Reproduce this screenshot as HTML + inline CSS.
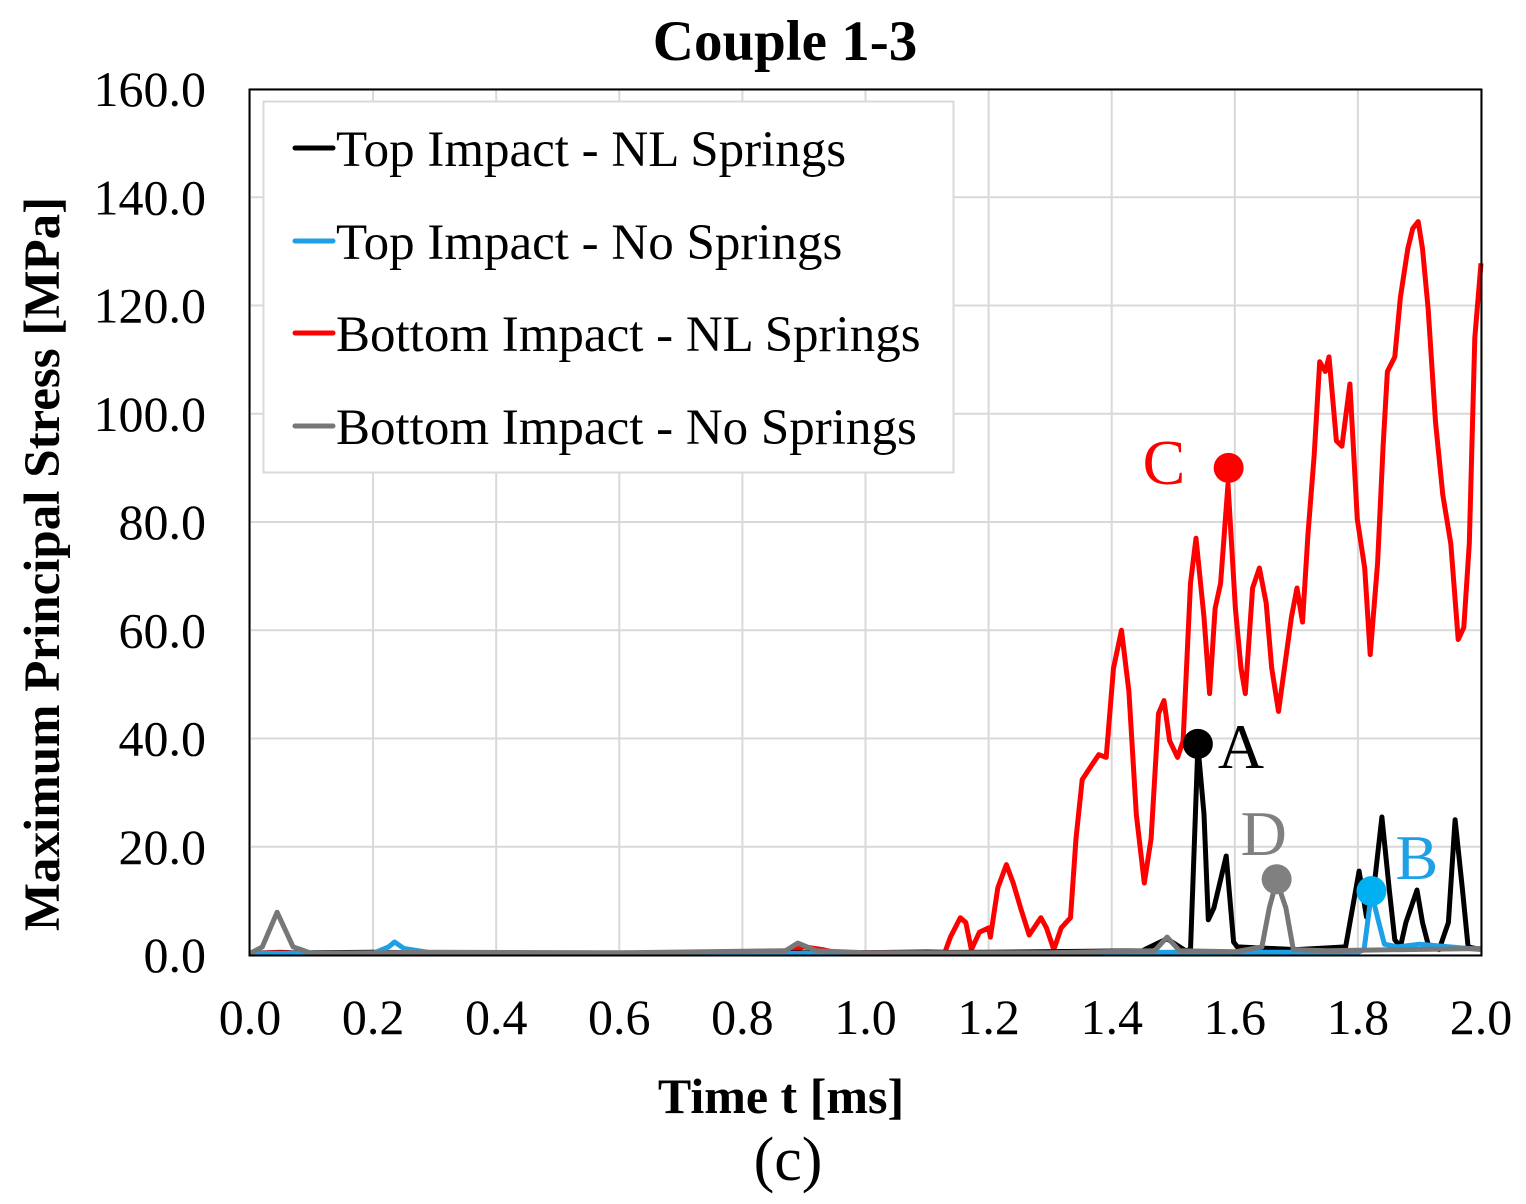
<!DOCTYPE html>
<html><head><meta charset="utf-8"><style>
html,body{margin:0;padding:0;background:#fff;}
svg{display:block;font-family:"Liberation Serif","DejaVu Serif",serif;}
</style></head><body>
<svg id="chart" width="1526" height="1204" viewBox="0 0 1526 1204" xmlns="http://www.w3.org/2000/svg">
<rect x="0" y="0" width="1526" height="1204" fill="#fff"/>
<g id="grid"></g>
<g id="ticks"></g>
<g id="series"></g>
<rect x="249.5" y="89.5" width="1232" height="866" fill="none" stroke="#000" stroke-width="2"/>
<text x="785" y="60" font-size="57" font-weight="bold" text-anchor="middle">Couple 1-3</text>
<text x="0" y="0" font-size="51" font-weight="bold" text-anchor="middle" transform="translate(59,564) rotate(-90)">Maximum Principal Stress [MPa]</text>
<text x="781" y="1113" font-size="50" font-weight="bold" text-anchor="middle">Time t [ms]</text>
<text x="788" y="1180" font-size="62" text-anchor="middle">(c)</text>
<g>
<rect x="263.5" y="101.5" width="690" height="371" fill="#fff" stroke="#d9d9d9" stroke-width="2"/>
<g><line x1="295" y1="148" x2="333" y2="148" stroke="#000" stroke-width="5" stroke-linecap="round"/><text x="336" y="166" font-size="51">Top Impact - NL Springs</text></g>
<g><line x1="295" y1="241" x2="333" y2="241" stroke="#1ea0e6" stroke-width="5" stroke-linecap="round"/><text x="336" y="259" font-size="51">Top Impact - No Springs</text></g>
<g><line x1="295" y1="333" x2="333" y2="333" stroke="#ff0000" stroke-width="5" stroke-linecap="round"/><text x="336" y="351" font-size="51">Bottom Impact - NL Springs</text></g>
<g><line x1="295" y1="426" x2="333" y2="426" stroke="#777" stroke-width="5" stroke-linecap="round"/><text x="336" y="444" font-size="51">Bottom Impact - No Springs</text></g>
</g>
<g id="markers"></g>
</svg>
<script>
const xTicks = [0.0,0.2,0.4,0.6,0.8,1.0,1.2,1.4,1.6,1.8,2.0];
const yTicks = [0,20,40,60,80,100,120,140,160];

const redT = [0,0.05,0.1,0.3,0.5,0.7,0.88,0.9,0.93,0.95,1.0,1.1,1.129,1.138,1.154,1.163,1.172,1.185,1.2,1.203,1.215,1.229,1.24,1.252,1.266,1.285,1.294,1.306,1.318,1.333,1.342,1.352,1.367,1.379,1.391,1.403,1.416,1.428,1.44,1.453,1.464,1.476,1.485,1.494,1.507,1.516,1.528,1.537,1.55,1.559,1.568,1.577,1.589,1.601,1.61,1.617,1.629,1.640,1.651,1.66,1.671,1.68,1.692,1.701,1.71,1.719,1.729,1.738,1.747,1.753,1.765,1.774,1.787,1.799,1.811,1.820,1.832,1.841,1.848,1.86,1.869,1.881,1.889,1.898,1.905,1.914,1.926,1.938,1.951,1.963,1.972,1.981,1.99,2.0];
const redV = [0.3,0.5,0.2,0.3,0.2,0.4,0.8,1.5,1.0,0.5,0.4,0.6,0.5,3.3,6.9,6,1,4.2,5,3.3,12.4,16.7,13.3,8.7,3.7,6.9,5,1,5,6.9,21.5,32.4,35,37,36.5,53,60,48.7,26,13.3,21.5,44.6,47,39.6,36.5,39.6,68.7,77,62.4,48.3,64,68.7,87,64,53,48.3,67.8,71.5,65,53,45,52.4,62.4,67.8,61.5,77.8,92.4,109.6,107.8,110.5,95,94,105.5,80.5,71.5,55.5,72.4,94,107.8,110.5,121.5,130.5,134.2,135.5,130.5,119.5,98.5,85,76,58.3,60.5,76,114,127.8];

const blackT = [0,0.2,0.5,0.9,1.2,1.45,1.49,1.52,1.528,1.540,1.55,1.557,1.566,1.586,1.598,1.604,1.7,1.78,1.802,1.814,1.826,1.839,1.851,1.860,1.869,1.878,1.896,1.905,1.914,1.932,1.947,1.958,1.970,1.979,2.0];
const blackV = [0.3,0.5,0.3,0.4,0.5,0.8,3,0.8,1,38.7,26,6.5,8.7,18.3,2.4,1.5,1,1.5,15.5,7,12.4,25.5,12,2.8,1.5,6,12,6,2,1,6,25,12,1.5,1];

const blueT = [0,0.2,0.225,0.235,0.25,0.3,0.6,0.9,1.2,1.5,1.6,1.8,1.81,1.822,1.834,1.843,1.865,1.9,2.0];
const blueV = [0.3,0.3,1.5,2.4,1.2,0.3,0.3,0.3,0.3,0.5,0.5,0.5,1,11.5,6,2,1.5,2,1];

const grayT = [0,0.02,0.044,0.07,0.1,0.3,0.6,0.87,0.89,0.92,1.0,1.3,1.47,1.49,1.51,1.6,1.644,1.656,1.668,1.683,1.695,1.75,2.0];
const grayV = [0.3,1.5,7.9,1.5,0.3,0.5,0.4,0.8,2.2,0.8,0.4,0.4,0.8,3.3,0.8,0.6,1.5,8.7,13.7,8.7,1,0.8,1.2];

const markerT = [1.54,1.822,1.59,1.668];
const markerV = [39.0,11.8,90.0,14.0];
const markerLabels = ['A','B','C','D'];

const NS='http://www.w3.org/2000/svg';
const X0=250,X1=1481,Y0=955,Y1=89;
const xs=t=>X0+(t-0)/(2.0)*(X1-X0);
const ys=v=>Y0-v/160*(Y0-Y1);
function mk(tag,attrs,parent){const e=document.createElementNS(NS,tag);for(const k in attrs)e.setAttribute(k,attrs[k]);parent.appendChild(e);return e;}
const grid=document.getElementById('grid'),ticks=document.getElementById('ticks'),ser=document.getElementById('series'),mks=document.getElementById('markers');
xTicks.forEach(t=>{
  const l=mk('line',{x1:xs(t),x2:xs(t),y1:Y1,y2:Y0,stroke:'#d9d9d9','stroke-width':2},grid);
  
  
  const tx=mk('text',{x:xs(t),y:1034,'font-size':50,'text-anchor':'middle'},ticks);
  tx.textContent=t.toFixed(1);
  
  
});
yTicks.forEach(v=>{
  const l=mk('line',{x1:X0,x2:X1,y1:ys(v),y2:ys(v),stroke:'#d9d9d9','stroke-width':2},grid);
  
  
  const tx=mk('text',{x:206,y:ys(v)+17,'font-size':50,'text-anchor':'end'},ticks);
  tx.textContent=v.toFixed(1);
  
  
});
function line(T,V,color,name){
  const d=T.map((t,i)=>(i?'L':'M')+xs(t).toFixed(1)+','+ys(V[i]).toFixed(1)).join('');
  const p=mk('path',{d:d,fill:'none',stroke:color,'stroke-width':5,'stroke-linejoin':'round'},ser);
  
  
}
line(redT,redV,'#ff0000','series-bottom-nl-springs');
line(blackT,blackV,'#000000','series-top-nl-springs');
line(blueT,blueV,'#1ea0e6','series-top-no-springs');
line(grayT,grayV,'#777777','series-bottom-no-springs');
const mColors=['#000','#00b0f0','#ff0000','#808080'];
const lColors=['#000','#1ea0e6','#ff0000','#808080'];
const lOff=[[20,24],[24,-12],[-86,0],[-36,-24]];
markerT.forEach((t,i)=>{
  const c=mk('circle',{cx:xs(t),cy:ys(markerV[i]),r:15,fill:mColors[i]},mks);
  
  
  const tx=mk('text',{x:xs(t)+lOff[i][0],y:ys(markerV[i])+lOff[i][1]+(i==2?16:0),'font-size':64,fill:lColors[i]},mks);
  tx.textContent=markerLabels[i];
  
  
});
</script>
</body></html>
